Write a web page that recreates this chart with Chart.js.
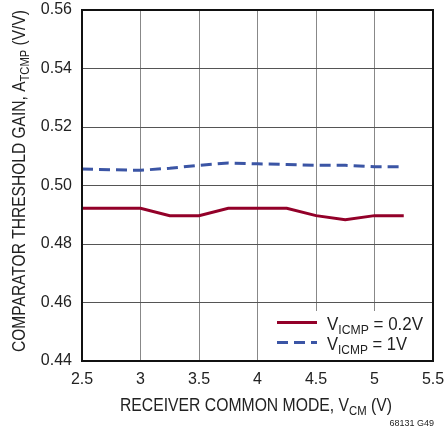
<!DOCTYPE html>
<html>
<head>
<meta charset="utf-8">
<script src="https://cdn.jsdelivr.net/npm/chart.js@4"></script>
<style>
  html, body { margin: 0; padding: 0; background: #fff; }
  #wrap { width: 445px; height: 429px; }
</style>
</head>
<body>
<div id="wrap"><canvas id="grafico" width="445" height="429"></canvas></div>
<script>
// valores
const vcm = [2.5, 2.75, 3.0, 3.25, 3.5, 3.75, 4.0, 4.25, 4.5, 4.75, 5.0, 5.25];
const ganho02 = [0.4922, 0.4922, 0.4922, 0.4897, 0.4897, 0.4922, 0.4922, 0.4922, 0.4897, 0.4883, 0.4897, 0.4897];
const ganho1 = [0.5056, 0.5054, 0.5052, 0.5059, 0.5069, 0.5077, 0.5074, 0.5072, 0.5069, 0.5069, 0.5064, 0.5064];
const xTicks = [2.5, 3, 3.5, 4, 4.5, 5, 5.5];
const xTickLabels = ['2.5', '3', '3.5', '4', '4.5', '5', '5.5'];
const yTicks = [0.44, 0.46, 0.48, 0.50, 0.52, 0.54, 0.56];
const yTickLabels = ['0.44', '0.46', '0.48', '0.50', '0.52', '0.54', '0.56'];

const FONTE = '"Liberation Sans", Arial, sans-serif';
const VERMELHO = '#930029';
const AZUL = '#3b55a5';

// desenha texto com subscrito, comprimido na horizontal até a largura pedida
function textoSub(ctx, partes, x, y, tam, align, largura) {
  const medir = p => {
    ctx.font = (p[1] ? tam * 0.72 : tam) + 'px ' + FONTE;
    return ctx.measureText(p[0]).width;
  };
  const total = partes.reduce((s, p) => s + medir(p), 0);
  const sx = largura ? largura / total : 1;
  const w = total * sx;
  let x0 = align === 'center' ? x - w / 2 : (align === 'right' ? x - w : x);
  ctx.save();
  ctx.translate(x0, y);
  ctx.scale(sx, 1);
  ctx.textBaseline = 'alphabetic';
  ctx.textAlign = 'left';
  let cx = 0;
  partes.forEach(p => {
    const pw = medir(p);
    ctx.fillText(p[0], cx, p[1] ? tam * 0.2 : 0);
    cx += pw;
  });
  ctx.restore();
}

const extras = {
  id: 'extras',
  afterDatasetsDraw(chart) {
    const { ctx, chartArea: a } = chart;
    ctx.save();
    // moldura
    ctx.strokeStyle = '#111';
    ctx.lineWidth = 2;
    ctx.strokeRect(a.left, a.top, a.right - a.left, a.bottom - a.top);

    // legenda
    const lx = 270, ly = 311;
    ctx.fillStyle = '#fff';
    ctx.fillRect(lx, ly, a.right - lx - 1, a.bottom - ly - 1);
    ctx.lineWidth = 3;
    ctx.strokeStyle = VERMELHO;
    ctx.beginPath(); ctx.moveTo(277, 322.5); ctx.lineTo(317, 322.5); ctx.stroke();
    ctx.strokeStyle = AZUL;
    ctx.setLineDash([11, 6]);
    ctx.beginPath(); ctx.moveTo(277, 342.5); ctx.lineTo(317, 342.5); ctx.stroke();
    ctx.setLineDash([]);
    ctx.fillStyle = '#222';
    textoSub(ctx, [['V', false], ['ICMP', true], [' = 0.2V', false]], 327, 330, 19, 'left', 96);
    textoSub(ctx, [['V', false], ['ICMP', true], [' = 1V', false]], 327, 350, 19, 'left', 80);

    // título do eixo x
    textoSub(ctx, [['RECEIVER COMMON MODE, V', false], ['CM', true], [' (V)', false]], 256, 411, 18, 'center', 272);
    ctx.font = '9px ' + FONTE;
    ctx.textAlign = 'right';
    ctx.textBaseline = 'alphabetic';
    ctx.fillText('68131 G49', 434, 426);

    // título do eixo y
    ctx.translate(25, 181);
    ctx.rotate(-Math.PI / 2);
    textoSub(ctx, [['COMPARATOR THRESHOLD GAIN, A', false], ['TCMP', true], [' (V/V)', false]], 0, 0, 18, 'center', 342);
    ctx.restore();
  }
};

const ctx = document.getElementById('grafico').getContext('2d');
new Chart(ctx, {
  type: 'line',
  data: {
    datasets: [
      {
        label: 'VICMP = 0.2V',
        data: vcm.map((v, i) => ({ x: v, y: ganho02[i] })),
        borderColor: VERMELHO,
        borderWidth: 3,
        pointRadius: 0,
        tension: 0
      },
      {
        label: 'VICMP = 1V',
        data: vcm.map((v, i) => ({ x: v, y: ganho1[i] })),
        borderColor: AZUL,
        borderWidth: 3,
        borderDash: [11, 6],
        pointRadius: 0,
        tension: 0
      }
    ]
  },
  options: {
    responsive: false,
    animation: false,
    layout: { padding: { top: 10, right: 12, left: 0, bottom: 0 } },
    plugins: { legend: { display: false }, tooltip: { enabled: false } },
    scales: {
      x: {
        type: 'linear',
        min: 2.5,
        max: 5.5,
        afterBuildTicks: s => { s.ticks = xTicks.map(v => ({ value: v })); },
        afterFit: s => { s.height = 68; s.paddingLeft = 0; s.paddingRight = 0; },
        ticks: {
          callback: v => xTickLabels[xTicks.indexOf(v)],
          color: '#222',
          font: { family: FONTE, size: 16 },
          padding: 9,
          maxRotation: 0
        },
        grid: { color: '#888', lineWidth: 1, drawTicks: false },
        border: { display: false }
      },
      y: {
        min: 0.44,
        max: 0.56,
        afterBuildTicks: s => { s.ticks = yTicks.map(v => ({ value: v })); },
        afterFit: s => { s.width = 82; s.paddingTop = 0; s.paddingBottom = 0; },
        ticks: {
          callback: v => yTickLabels[yTicks.findIndex(t => Math.abs(t - v) < 1e-9)],
          color: '#222',
          font: { family: FONTE, size: 16 },
          padding: 10
        },
        grid: { color: '#555', lineWidth: 1, drawTicks: false },
        border: { display: false }
      }
    }
  },
  plugins: [extras]
});
</script>
</body>
</html>
